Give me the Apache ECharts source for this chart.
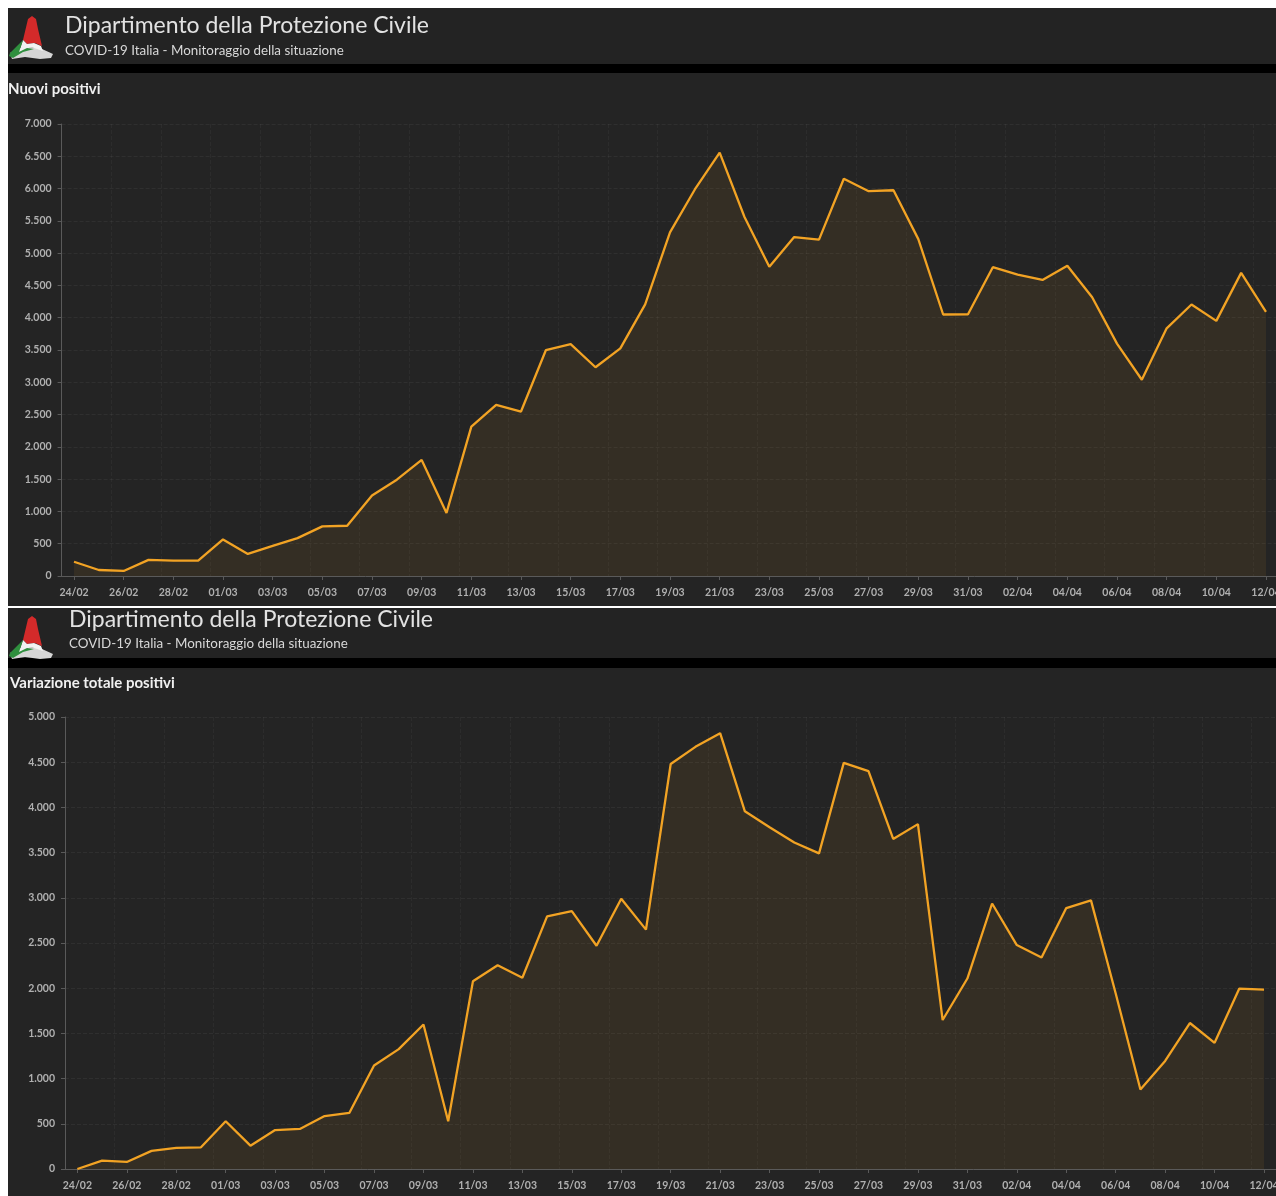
<!DOCTYPE html>
<html>
<head>
<meta charset="utf-8">
<script src="https://cdn.jsdelivr.net/npm/echarts@6/dist/echarts.min.js"></script>
<style>
html,body{margin:0;padding:0;background:#fff;overflow:hidden;width:1276px;height:1196px;}
#c{position:absolute;left:0;top:0;width:1290px;height:1196px;}
</style>
</head>
<body>
<div id="c"></div>
<script>
const dates = ['24/02','25/02','26/02','27/02','28/02','29/02','01/03','02/03','03/03','04/03','05/03','06/03','07/03','08/03','09/03','10/03','11/03','12/03','13/03','14/03','15/03','16/03','17/03','18/03','19/03','20/03','21/03','22/03','23/03','24/03','25/03','26/03','27/03','28/03','29/03','30/03','31/03','01/04','02/04','03/04','04/04','05/04','06/04','07/04','08/04','09/04','10/04','11/04','12/04'];
const nuoviPositivi = [221,93,78,250,238,240,566,342,466,587,769,778,1247,1492,1797,977,2313,2651,2547,3497,3590,3233,3526,4207,5322,5986,6557,5560,4789,5249,5210,6153,5959,5974,5217,4050,4053,4782,4668,4585,4805,4316,3599,3039,3836,4204,3951,4694,4092];
const variazioneTotalePositivi = [0,93,78,200,233,240,528,258,431,443,586,620,1145,1326,1598,529,2076,2253,2116,2795,2853,2470,2989,2648,4480,4670,4821,3957,3780,3612,3491,4492,4401,3651,3815,1648,2107,2937,2477,2339,2886,2972,1941,880,1195,1615,1396,1996,1984];
const headerTitle = 'Dipartimento della Protezione Civile';
const headerSubtitle = 'COVID-19 Italia - Monitoraggio della situazione';
const chartTitles = ['Nuovi positivi', 'Variazione totale positivi'];

const chart = echarts.init(document.getElementById('c'), null, {renderer:'canvas'});
const fmt = v => String(v).replace(/\B(?=(\d{3})+(?!\d))/g, '.');
const FONT = 'Lato, "Open Sans", sans-serif';
const ORANGE = '#f2a324';

function logo(x, y) {
  return {
    type: 'group', x: x, y: y, z: 5,
    children: [
      {type:'polygon', shape:{points:[[2,38],[12,33],[23,32],[34,34],[45,39],[43,43],[32,44],[17,42],[4,44]]}, style:{fill:'#d6d6d6'}},
      {type:'polygon', shape:{points:[[20,4],[24,1],[28,4],[30,14],[34,31],[27,28],[19,29],[15,25]]}, style:{fill:'#d42a2a'}},
      {type:'polygon', shape:{points:[[15,25],[19,29],[26,28],[33,31],[35,36],[23,32],[11,37]]}, style:{fill:'#f2f2f2'}},
      {type:'polygon', shape:{points:[[15,25],[11,37],[19,33],[26,34],[15,37],[5,43],[1,41],[2,38]]}, style:{fill:'#2f8f3e'}}
    ]
  };
}

function panel(top, headH, chartTop, bottom, titleY, subY, chartTitleY, textX, chartTitleX, idx) {
  return [
    {type:'rect', z:-10, shape:{x:8, y:top, width:1290, height:headH}, style:{fill:'#232323'}},
    {type:'rect', z:-10, shape:{x:8, y:top+headH, width:1290, height:chartTop-top-headH}, style:{fill:'#000'}},
    {type:'rect', z:-10, shape:{x:8, y:chartTop, width:1290, height:bottom-chartTop}, style:{fill:'#242424'}},
    logo(8, top+7),
    {type:'text', z:5, x:textX, y:titleY, style:{text:headerTitle, fill:'#e2e2e2', font:'23px '+FONT, textVerticalAlign:'middle'}},
    {type:'text', z:5, x:textX, y:subY, style:{text:headerSubtitle, fill:'#d8d8d8', font:'13.4px '+FONT, textVerticalAlign:'middle'}},
    {type:'text', z:5, x:chartTitleX, y:chartTitleY, style:{text:chartTitles[idx], fill:'#f0f0f0', font:'bold 15px '+FONT, textVerticalAlign:'middle'}}
  ];
}

function xAxisOpt(gi) {
  return {
    type:'category', gridIndex:gi, data:dates, boundaryGap:true,
    axisLine:{show:true, lineStyle:{color:'#5a5a5a', width:1}},
    axisTick:{show:true, alignWithLabel:true, interval:1, length:4, lineStyle:{color:'#5a5a5a'}},
    axisLabel:{interval:1, color:'#b0b0b0', fontSize:10.5, fontWeight:'bold', fontFamily:FONT, margin:11},
    splitLine:{show:true, interval:1, lineStyle:{color:'rgba(255,255,255,0.04)', type:'dashed'}}
  };
}
function yAxisOpt(gi, max) {
  return {
    type:'value', gridIndex:gi, min:0, max:max, interval:500,
    axisLine:{show:true, lineStyle:{color:'#5a5a5a', width:1}},
    axisTick:{show:true, length:4, lineStyle:{color:'#5a5a5a'}},
    axisLabel:{color:'#b0b0b0', fontSize:10.5, fontWeight:'bold', fontFamily:FONT, margin:10, formatter:fmt},
    splitLine:{show:true, lineStyle:{color:'rgba(255,255,255,0.05)', type:'dashed'}}
  };
}
function seriesOpt(gi, data) {
  return {
    type:'line', xAxisIndex:gi, yAxisIndex:gi, data:data, showSymbol:false, symbol:'none',
    lineStyle:{color:ORANGE, width:2.3}, itemStyle:{color:ORANGE},
    areaStyle:{color:'rgba(242,163,36,0.11)'}, z:3, animation:false
  };
}

chart.setOption({
  backgroundColor:'#ffffff',
  animation:false,
  graphic:{elements:[].concat(
    panel(8, 56, 73, 606, 26, 51, 89, 65, 8, 0),
    panel(608, 50, 668, 1200, 620, 644, 683, 69, 10, 1)
  )},
  grid:[
    {left:61.6, top:124, width:1216.8, height:452},
    {left:65, top:717, width:1211.4, height:452}
  ],
  xAxis:[xAxisOpt(0), xAxisOpt(1)],
  yAxis:[yAxisOpt(0, 7000), yAxisOpt(1, 5000)],
  series:[seriesOpt(0, nuoviPositivi), seriesOpt(1, variazioneTotalePositivi)]
});
</script>
</body>
</html>
